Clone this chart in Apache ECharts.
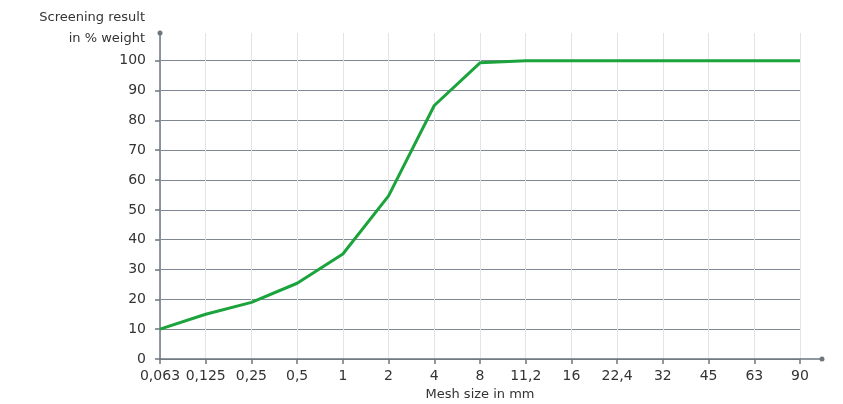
<!DOCTYPE html>
<html>
<head>
<meta charset="utf-8">
<script src="https://cdn.jsdelivr.net/npm/echarts@6/dist/echarts.min.js"></script>
<style>
  html, body { margin: 0; padding: 0; background: #fff; }
  #chart { width: 843px; height: 404px; }
</style>
</head>
<body>
<div id="chart"></div>
<script>
// mesh sizes (mm) on the x axis
const meshSizes = ['0,063', '0,125', '0,25', '0,5', '1', '2', '4', '8', '11,2', '16', '22,4', '32', '45', '63', '90'];
// screening result in % weight
const passing = [10, 15, 19, 25.4, 35.2, 54.7, 85, 99.3, 100, 100, 100, 100, 100, 100, 100];

const font = 'DejaVu Sans';
const axisColor = '#6c7780';

const chart = echarts.init(document.getElementById('chart'));

const option = {
  animation: false,
  backgroundColor: '#fff',
  grid: [
    // main plot area
    { left: 160, right: 43, top: 33, bottom: 45, containLabel: false, outerBoundsMode: 'none' },
    // only used for the longer x axis line with the dot
    { left: 160, right: 21, top: 33, bottom: 45, containLabel: false, outerBoundsMode: 'none' }
  ],
  xAxis: [{
    type: 'category',
    gridIndex: 0,
    data: meshSizes,
    boundaryGap: false,
    name: 'Mesh size in mm',
    nameLocation: 'middle',
    nameGap: 29,
    nameTextStyle: { fontFamily: font, fontSize: 13, color: '#333' },
    axisLine: { show: false },
    axisTick: { show: true, length: 5, interval: 0, lineStyle: { color: axisColor, width: 1.5 } },
    axisLabel: { fontFamily: font, fontSize: 14, color: '#333', margin: 10, interval: 0 },
    splitLine: { show: true, lineStyle: { color: '#dfe5ea', width: 1 } }
  }, {
    type: 'value',
    gridIndex: 1,
    min: 0,
    max: 1,
    axisLine: { show: true, symbol: ['none', 'circle'], symbolSize: [5, 5], lineStyle: { color: axisColor, width: 1.5 } },
    axisTick: { show: false },
    axisLabel: { show: false },
    splitLine: { show: false }
  }],
  yAxis: [{
    type: 'value',
    gridIndex: 0,
    min: 0,
    max: 109.3,
    interval: 10,
    name: 'Screening result\nin % weight',
    nameLocation: 'end',
    nameGap: -16,
    nameTextStyle: { fontFamily: font, fontSize: 13, color: '#333', align: 'right', verticalAlign: 'bottom', lineHeight: 21, padding: [0, 15, 0, 0] },
    axisLine: { show: true, symbol: ['none', 'circle'], symbolSize: [5, 5], lineStyle: { color: axisColor, width: 1.5 } },
    axisTick: { show: true, length: 5, lineStyle: { color: axisColor, width: 1.5 } },
    axisLabel: { fontFamily: font, fontSize: 14, color: '#333', margin: 14, showMaxLabel: false },
    splitLine: { show: true, showMaxLine: false, lineStyle: { color: '#7d8892', width: 1.2 } }
  }, {
    type: 'value',
    gridIndex: 1,
    show: false
  }],
  series: [{
    type: 'line',
    xAxisIndex: 0,
    yAxisIndex: 0,
    data: passing,
    symbol: 'none',
    lineStyle: { color: '#1ba33c', width: 3 },
    z: 5
  }]
};

chart.setOption(option);
</script>
</body>
</html>
